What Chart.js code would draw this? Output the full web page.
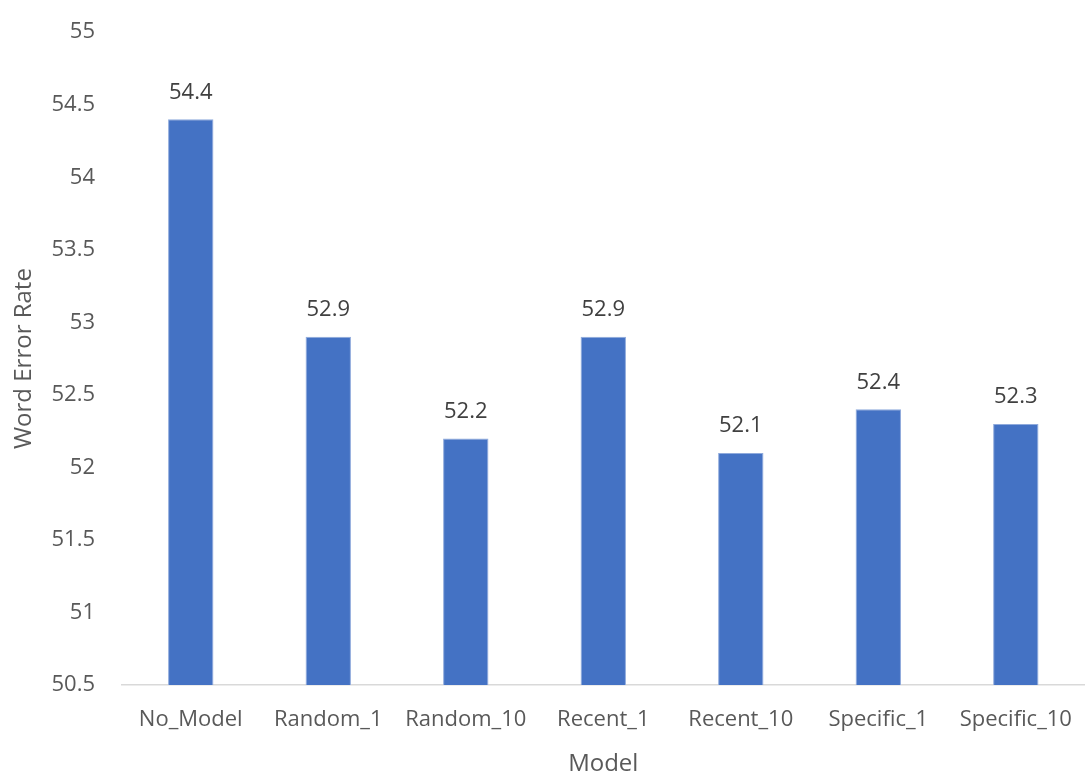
<!DOCTYPE html>
<html>
<head>
<meta charset="utf-8">
<script src="https://cdn.jsdelivr.net/npm/chart.js@4/dist/chart.umd.min.js"></script>
<style>
  html, body { margin: 0; padding: 0; background: #fff; }
</style>
</head>
<body>
<canvas id="chart" width="1086" height="776"></canvas>
<script>
const models = ['No_Model', 'Random_1', 'Random_10', 'Recent_1', 'Recent_10', 'Specific_1', 'Specific_10'];
const wer = [54.4, 52.9, 52.2, 52.9, 52.1, 52.4, 52.3];
const yMin = 50.5, yMax = 55, yStep = 0.5;

const FONT = '"Open Sans", "Noto Sans", sans-serif';

// value labels above each bar
const valueLabels = {
  id: 'valueLabels',
  afterDatasetsDraw(chart) {
    const ctx = chart.ctx;
    const meta = chart.getDatasetMeta(0);
    ctx.save();
    ctx.font = '22px ' + FONT;
    ctx.fillStyle = '#404040';
    ctx.textAlign = 'center';
    ctx.textBaseline = 'middle';
    meta.data.forEach((bar, i) => {
      ctx.fillText(wer[i].toFixed(1), bar.x, bar.y - 27);
    });
    ctx.restore();
  }
};

new Chart(document.getElementById('chart'), {
  type: 'bar',
  data: {
    labels: models,
    datasets: [{
      data: wer,
      backgroundColor: '#4472c4',
      borderColor: '#8faadc',
      borderWidth: 1,
      categoryPercentage: 1,
      barPercentage: 0.33
    }]
  },
  options: {
    responsive: false,
    animation: false,
    layout: { padding: { left: 12, right: 1, top: 19, bottom: 0 } },
    plugins: {
      legend: { display: false },
      tooltip: { enabled: false }
    },
    scales: {
      x: {
        grid: { display: false },
        border: { display: true, color: '#d9d9d9', width: 1.5 },
        ticks: { color: '#595959', font: { family: FONT, size: 22 }, padding: 14, maxRotation: 0, autoSkip: false },
        title: { display: true, text: 'Model', color: '#595959', font: { family: FONT, size: 24, lineHeight: 1 }, padding: 0 },
        afterFit(scale) { scale.height = 91; }
      },
      y: {
        min: yMin,
        max: yMax,
        grid: { display: false },
        border: { display: false },
        ticks: {
          stepSize: yStep, color: '#595959', font: { family: FONT, size: 22 }, padding: 19,
          callback: (v) => String(Math.round(v * 10) / 10)
        },
        title: { display: true, text: 'Word Error Rate', color: '#595959', font: { family: FONT, size: 24, lineHeight: 1 }, padding: 0 },
        afterFit(scale) { scale.width = 110; }
      }
    }
  },
  plugins: [valueLabels]
});
</script>
</body>
</html>
